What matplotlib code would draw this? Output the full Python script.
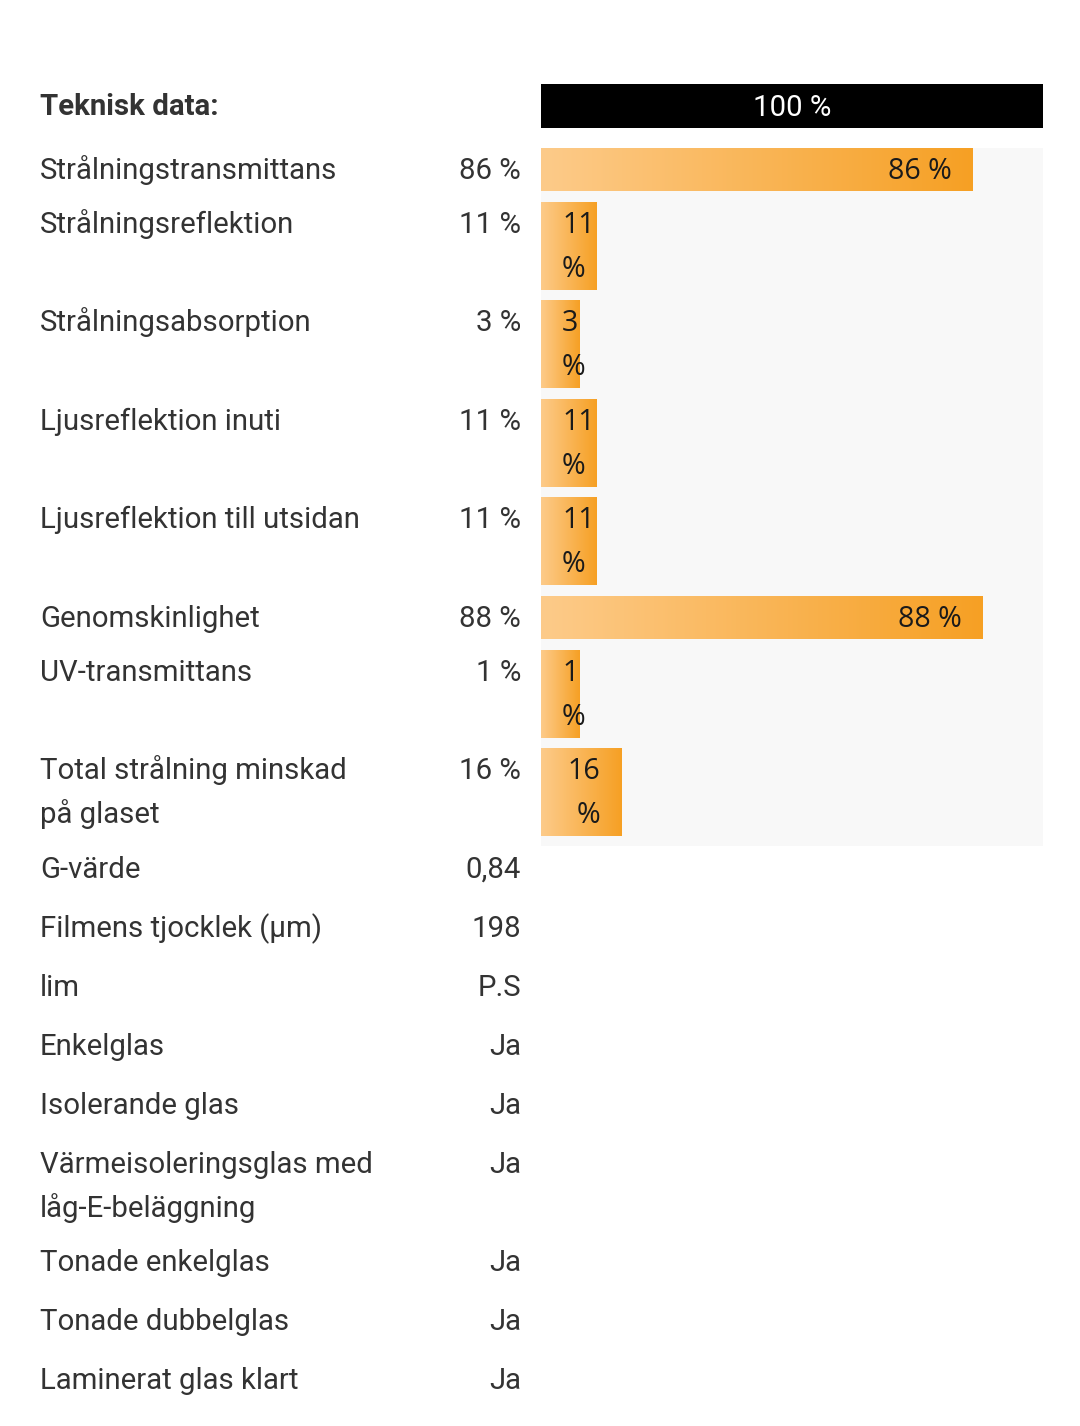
import numpy as np
import matplotlib.pyplot as plt
from matplotlib.colors import LinearSegmentedColormap

# Data
bar_labels = ['Strålningstransmittans', 'Strålningsreflektion', 'Strålningsabsorption',
              'Ljusreflektion inuti', 'Ljusreflektion till utsidan', 'Genomskinlighet',
              'UV-transmittans', 'Total strålning minskad\npå glaset']
bar_values = [86, 11, 3, 11, 11, 88, 1, 16]

other_labels = ['G-värde', 'Filmens tjocklek (µm)', 'lim', 'Enkelglas', 'Isolerande glas',
                'Värmeisoleringsglas med\nlåg-E-beläggning', 'Tonade enkelglas',
                'Tonade dubbelglas', 'Laminerat glas klart']
other_values = ['0,84', '198', 'P.S', 'Ja', 'Ja', 'Ja', 'Ja', 'Ja', 'Ja']

title = 'Teknisk data:'
header_value = 100

W, H = 1080, 1426
TXT = '#333333'
FONT = 'Roboto'
FS = 21.2
BAR_FS = 20.6
LINE = 44

fig = plt.figure(figsize=(W / 100, H / 100), dpi=100)
fig.patch.set_facecolor('white')

# full-figure overlay in pixel coords for the label column
ax = fig.add_axes([0, 0, 1, 1])
ax.set_xlim(0, W)
ax.set_ylim(H, 0)
ax.axis('off')


def put_lines(x, base, text, ha='left'):
    # one text per line so every line sits on its own baseline
    for i, line in enumerate(text.split('\n')):
        ax.text(x, base + i * LINE, line, fontsize=FS, family=FONT, color=TXT,
                ha=ha, va='baseline')


# bar area: x in percent, y in pixel rows
bx_left, bx_right, bx_top, bx_bottom = 541, 1043, 148, 846
bx = fig.add_axes([bx_left / W, 1 - bx_bottom / H, (bx_right - bx_left) / W,
                   (bx_bottom - bx_top) / H])
bx.set_xlim(0, 100)
bx.set_ylim(bx_bottom, bx_top)
bx.set_facecolor('#f8f8f8')
for s in bx.spines.values():
    s.set_visible(False)
bx.set_xticks([])
bx.set_yticks([])

# header bar
hx = fig.add_axes([bx_left / W, 1 - 128 / H, (bx_right - bx_left) / W, 44 / H])
hx.set_xlim(0, 100)
hx.set_ylim(0, 1)
hx.barh(0.5, header_value, height=1, color='black', left=0)
hx.text(header_value / 2, 0.27, f'{header_value} %', color='white', ha='center',
        va='baseline', fontsize=FS, family=FONT)
hx.axis('off')

ax.text(40, 115, title, fontsize=FS, family=FONT, weight='bold', color=TXT,
        ha='left', va='baseline')

cmap = LinearSegmentedColormap.from_list('grad', ['#fdcb8a', '#f6a024'])
grad = np.linspace(0, 1, 256).reshape(1, -1)

px_per_pct = (bx_right - bx_left) / 100
pad = 21 / px_per_pct
min_w = 39 / px_per_pct
gap = 10.6

y = bx_top
for label, v in zip(bar_labels, bar_values):
    w = max(v, min_w)
    wrapped = v < 20
    h = 88 if wrapped else 43
    bars = bx.barh(y + h / 2, w, height=h, left=0, color='none', edgecolor='none')
    patch = bars.patches[0]
    im = bx.imshow(grad, cmap=cmap, aspect='auto', extent=(0, w, y + h, y),
                   interpolation='bicubic')
    im.set_clip_path(patch)

    base = y + 31
    put_lines(40, base, label)
    put_lines(521, base, f'{v} %', ha='right')

    if not wrapped:
        bx.text(w - pad, base, f'{v} %', fontsize=BAR_FS, family='Open Sans',
                color='#1a1a1a', ha='right', va='baseline')
    else:
        if v >= 14:
            xt, ha = w - pad, 'right'
        else:
            xt, ha = pad, 'left'
        bx.text(xt, base, f'{v}', fontsize=BAR_FS, family='Open Sans',
                color='#1a1a1a', ha=ha, va='baseline')
        bx.text(xt, base + LINE, '%', fontsize=BAR_FS, family='Open Sans',
                color='#1a1a1a', ha=ha, va='baseline')
    y += h + gap

base = 878
for label, val in zip(other_labels, other_values):
    nlines = label.count('\n') + 1
    put_lines(40, base, label)
    put_lines(521, base, val, ha='right')
    base += 59 + (nlines - 1) * 39

ax.set_zorder(2)
fig.savefig('out.png', dpi=100, facecolor='white')
